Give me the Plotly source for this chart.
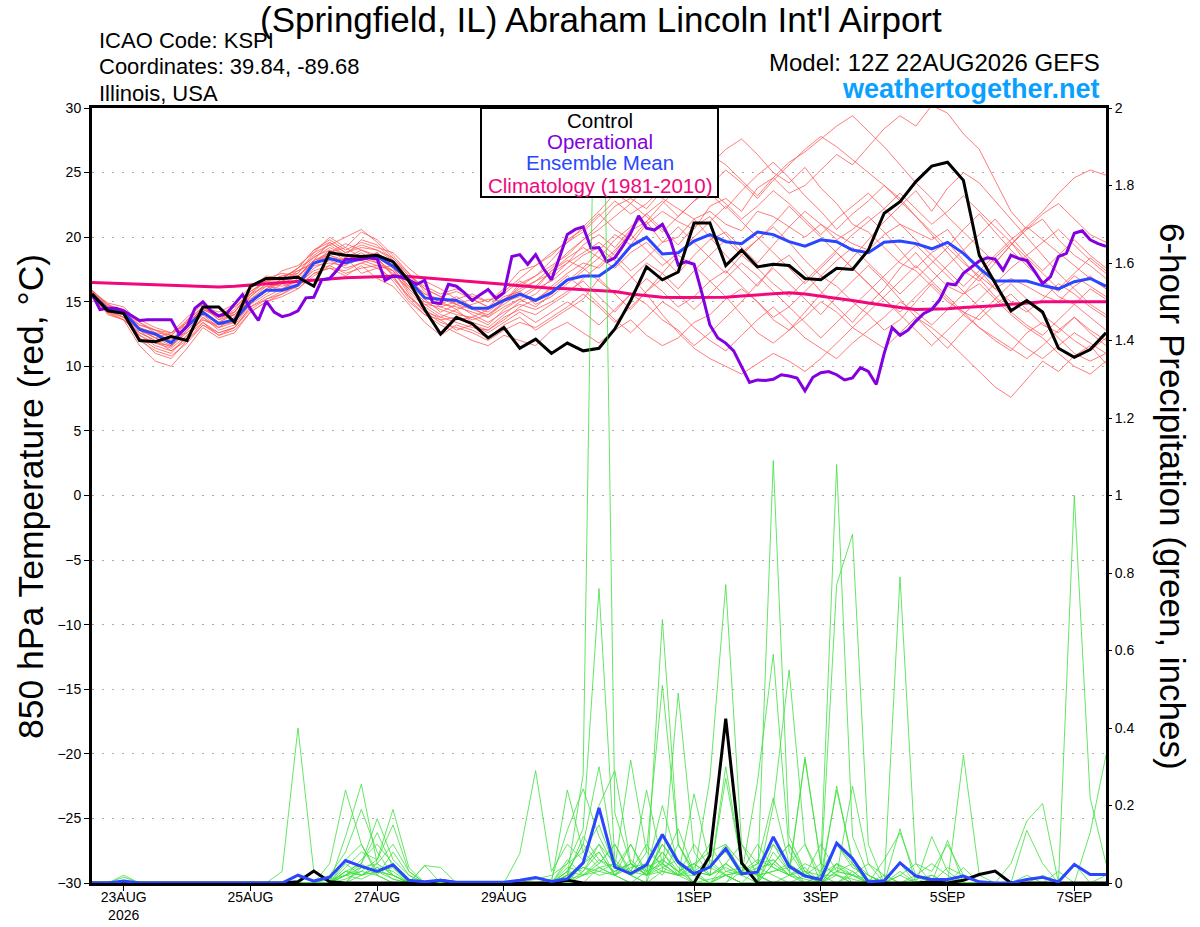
import plotly.graph_objects as go
import pandas as pd

# ---------------- data ----------------
START = "2026-08-22 12:00"
N6 = 65   # 6-hourly points
N3 = 129  # 3-hourly points (operational)

control_t = [15.6,14.3,14.1,12.0,11.9,12.3,12.0,14.6,14.6,13.4, 16.2,16.8,16.8,16.9,16.2,18.8,18.6,18.5,18.6,18.1,
             16.6,14.4,12.5,13.8,13.3,12.2,13.0,11.4,12.1,11.0, 11.8,11.2,11.4,12.9,15.1,17.7,16.7,17.3,21.1,21.1,
             17.8,19.0,17.7,17.9,17.8,16.8,16.7,17.6,17.5,19.0, 21.85,22.75,24.3,25.5,25.8,24.4,18.6,16.4,14.3,15.1,
             14.2,11.4,10.7,11.3,12.6]

mean_t = [15.6,14.4,14.2,12.85,12.5,11.8,13.1,14.2,13.3,13.6, 15.0,15.9,15.9,16.3,18.0,18.35,18.0,18.35,18.5,17.75,
          16.7,15.3,15.2,15.1,14.5,14.5,15.1,15.6,15.1,15.7, 16.7,17.0,17.0,17.85,19.3,20.0,18.7,18.8,19.7,20.2,
          19.65,19.5,20.4,20.2,19.65,19.3,19.8,19.65,19.0,18.8, 19.6,19.7,19.5,19.1,19.6,18.75,17.6,16.6,16.6,16.6,
          16.25,16.0,16.55,16.8,16.2]

clim_t = [16.5,16.45,16.4,16.35,16.3,16.25,16.2,16.18,16.15,16.2, 16.3,16.4,16.5,16.6,16.7,16.8,16.85,16.9,16.95,16.97,
          16.95,16.85,16.75,16.6,16.5,16.4,16.3,16.2,16.1,16.05, 16.0,15.95,15.9,15.8,15.6,15.45,15.35,15.33,15.33,15.34,
          15.35,15.45,15.55,15.65,15.7,15.6,15.45,15.3,15.1,14.9, 14.7,14.55,14.4,14.4,14.45,14.55,14.6,14.7,14.8,14.9,
          15.0,15.0,15.0,15.0,15.0]

oper_t = [15.6,14.4,14.5,14.5,14.3,13.9,13.55,13.6,13.6,13.6, 13.6,12.5,13.1,14.5,15.0,14.3,13.9,14.1,14.8,15.55,
          14.45,13.55,15.05,14.2,13.85,14.0,14.3,15.3,15.35,16.7, 16.8,17.5,18.3,18.3,18.3,18.4,18.3,16.65,17.0,16.9,
          16.7,16.35,16.65,14.95,14.85,16.35,16.2,15.7,15.1,15.55, 15.95,15.25,15.7,18.5,18.65,17.9,18.65,17.55,16.7,18.4,
          20.2,20.6,20.8,19.15,19.2,18.1,18.4,19.3,20.3,21.65, 20.7,20.55,21.0,19.8,17.85,18.1,17.9,15.65,13.2,12.2,
          11.8,11.2,10.0,8.75,8.95,8.9,9.0,9.35,9.25,9.1, 8.1,9.15,9.5,9.6,9.35,8.95,9.1,9.9,9.6,8.6,
          11.0,13.0,12.4,12.8,13.5,14.1,14.4,15.15,16.4,16.3, 17.2,17.7,18.15,18.4,18.3,17.45,18.6,18.35,18.2,17.35,
          16.4,16.95,18.5,18.75,20.3,20.5,19.8,19.5,19.3]

members_t = [
 [15.8,14.6,14.0,12.6,12.0,11.5,12.8,14.0,13.0,13.8, 15.2,16.2,16.0,16.8,18.5,19.0,18.2,18.8,18.0,17.2, 16.0,14.8,14.6,14.2,13.6,14.0,14.8,15.6,15.0,16.2, 17.2,18.0,17.6,18.8,20.5,21.2,19.6,20.0,21.4,22.0, 21.0,20.5,22.0,21.6,20.8,20.0,21.0,20.2,19.5,19.0, 20.2,21.0,20.4,19.8,20.6,19.0,17.5,16.0,16.8,16.2, 15.5,15.0,16.2,17.0,16.0],
 [15.5,14.2,14.4,13.0,12.4,12.0,13.5,14.6,13.8,14.2, 15.8,16.6,17.0,17.4,18.0,18.8,19.5,19.0,18.6,18.0, 16.8,15.6,15.0,14.4,14.8,15.2,15.0,16.4,17.0,17.8, 18.6,19.8,21.0,22.4,23.0,22.2,23.6,24.8,24.0,25.6, 26.8,27.6,26.4,25.0,24.2,25.4,23.8,22.6,21.0,20.4, 19.2,18.0,17.4,16.2,15.0,14.2,13.6,14.8,15.6,14.4, 13.2,12.6,13.8,12.8,12.0],
 [15.9,14.8,14.2,12.2,11.0,10.6,12.0,13.4,12.4,13.0, 14.6,15.2,15.8,16.2,17.6,18.2,17.6,18.0,18.4,17.0, 15.2,14.0,13.2,12.6,12.0,11.6,12.4,12.0,11.6,12.8, 13.4,12.6,11.8,12.8,13.6,12.4,11.6,12.2,13.4,14.0, 15.2,16.0,15.0,13.8,14.6,15.8,17.0,16.2,15.0,14.0, 12.8,13.6,15.0,16.4,15.2,14.0,13.0,12.0,11.2,12.6, 13.4,12.2,11.0,10.4,11.0],
 [15.4,14.4,13.8,12.8,12.2,12.6,13.2,14.4,14.0,14.6, 15.6,16.8,17.2,17.0,18.2,19.6,18.8,19.4,19.0,18.2, 17.0,16.0,15.4,15.8,15.2,14.6,15.6,16.6,16.0,17.4, 18.2,17.6,19.0,20.2,19.4,21.0,22.0,21.2,20.6,22.4, 23.0,22.0,23.8,24.6,23.4,24.0,25.2,26.4,25.6,27.0, 28.4,29.4,28.6,30.2,29.6,28.0,26.8,24.4,22.0,20.6, 21.4,19.8,18.6,17.8,16.8],
 [15.7,14.5,14.1,13.2,12.8,12.2,12.6,13.6,13.2,13.4, 14.8,15.6,16.4,16.0,17.0,17.8,18.4,17.2,17.6,17.8, 16.4,15.2,14.2,14.8,14.0,13.4,14.2,14.8,14.4,15.0, 15.8,16.6,15.4,14.2,15.6,16.8,15.8,14.6,15.4,16.6, 17.4,16.2,15.0,13.6,12.8,13.8,15.0,14.2,13.0,12.2, 11.4,12.6,13.8,13.0,12.0,10.8,9.6,8.4,7.6,9.0, 10.4,9.6,10.8,11.6,10.2],
 [15.6,14.0,13.6,12.4,11.6,11.2,12.2,13.8,12.8,13.2, 14.8,16.0,16.6,17.2,18.8,20.0,19.2,20.4,19.8,18.6, 17.2,15.8,14.8,15.4,14.6,13.8,15.0,16.2,17.0,18.2, 19.6,20.8,22.0,23.4,22.6,24.0,23.0,22.2,21.4,20.0, 18.6,17.4,16.2,17.8,18.6,17.2,15.8,14.6,13.4,14.8, 16.0,17.6,18.8,17.4,16.2,15.6,17.0,18.4,19.6,18.0, 16.6,15.4,14.8,16.0,15.2],
 [15.9,14.7,14.4,13.6,13.0,12.6,13.8,14.8,13.6,14.4, 16.0,17.0,16.8,17.6,19.0,19.8,19.0,19.6,19.2,18.8, 17.6,16.6,16.0,15.2,15.6,15.0,16.0,17.4,17.8,18.6, 19.8,20.6,21.8,20.6,19.8,21.2,22.6,23.8,24.6,23.4, 22.2,23.6,24.8,25.8,24.6,23.2,22.0,20.6,21.8,22.8, 24.0,23.0,21.6,20.2,18.8,17.4,16.6,18.0,19.4,20.6, 21.8,22.6,21.4,20.2,19.6],
 [15.3,14.1,13.6,11.6,10.4,10.0,11.4,13.0,12.2,12.6, 14.2,15.0,15.4,16.0,17.2,17.6,17.0,17.8,16.8,16.2, 14.8,13.4,12.4,13.2,12.8,12.2,13.2,13.8,12.8,13.6, 14.4,15.2,16.8,15.6,14.4,15.8,17.2,18.6,17.8,16.6, 15.4,14.0,12.6,11.8,12.8,14.2,15.6,17.0,18.4,19.8, 21.2,22.4,23.6,22.0,23.8,25.0,24.2,22.8,21.4,20.0, 18.6,17.2,16.0,14.8,14.0],
 [15.6,14.3,14.0,12.8,12.4,11.8,13.0,14.2,13.4,13.6, 15.4,16.4,16.2,16.6,18.2,18.6,18.0,18.2,18.8,17.6, 16.2,15.0,14.4,14.0,13.8,14.4,15.4,15.8,14.8,15.4, 16.4,17.4,18.4,17.6,18.8,19.6,18.4,17.2,18.6,19.8, 20.4,19.2,18.0,19.4,20.8,22.0,21.0,19.8,20.6,21.6, 20.4,19.0,17.6,18.8,19.6,18.2,16.8,15.4,14.2,13.2, 12.4,13.6,14.8,13.8,12.8],
 [15.8,14.9,14.6,13.4,12.8,12.4,13.4,14.4,13.8,14.0, 15.0,15.8,16.8,17.6,18.4,19.2,18.6,18.2,17.8,17.4, 15.8,14.6,13.8,13.4,13.0,12.8,13.6,14.6,15.2,16.0, 17.0,16.0,14.8,13.6,12.6,13.8,15.0,14.2,13.0,12.0, 11.2,12.4,13.6,14.6,13.4,12.2,11.4,10.6,11.8,12.8, 13.8,15.0,14.2,13.2,14.4,15.6,16.4,15.2,14.0,13.0, 12.2,11.0,10.0,9.4,10.4],
 [15.5,14.4,14.0,12.4,11.8,11.4,12.4,13.4,12.6,13.0, 14.6,15.4,16.0,16.6,17.8,18.0,17.8,18.6,18.2,17.4, 15.6,14.2,13.8,14.4,13.4,13.0,14.0,15.0,15.6,16.8, 18.0,19.4,20.2,19.2,20.6,21.8,20.6,19.4,20.8,21.6, 20.2,18.8,19.8,21.0,22.4,21.2,20.0,18.8,17.6,16.4, 15.2,14.2,15.4,16.6,17.8,19.0,20.2,21.4,20.0,18.6, 17.4,18.6,19.8,18.6,17.6],
 [15.7,14.6,14.2,13.0,12.6,12.0,13.2,14.6,13.6,14.0, 15.4,16.4,17.4,17.8,18.8,19.4,20.0,20.6,19.6,18.4, 17.0,16.2,15.6,16.0,15.4,15.0,15.8,16.8,17.8,18.8, 19.6,20.4,21.6,22.8,21.8,22.6,23.8,24.6,25.6,26.4, 25.6,24.4,23.2,24.6,25.8,26.6,27.6,28.6,29.4,28.2, 27.0,25.6,24.2,23.0,21.6,20.4,19.2,18.0,19.4,20.8, 22.0,23.4,24.6,25.2,24.8],
 [15.4,14.2,13.8,12.0,11.2,10.8,11.8,13.2,12.6,13.0, 14.4,15.2,15.6,16.4,17.4,17.8,17.2,17.6,17.8,16.6, 15.0,14.0,13.6,12.8,13.2,12.6,13.4,14.2,13.4,14.2, 15.0,14.2,13.2,14.4,15.6,14.8,13.6,12.8,11.6,12.6, 13.8,15.0,16.4,17.6,16.4,15.2,14.0,15.4,16.6,17.8, 16.6,15.2,13.8,12.6,11.4,12.8,14.0,15.2,16.4,15.2, 14.0,13.0,12.0,11.2,12.2],
 [15.6,14.4,14.2,13.4,12.6,12.4,13.6,14.6,14.2,14.8, 16.2,16.6,17.0,17.2,18.6,19.4,18.6,19.8,19.4,18.2, 16.8,15.4,14.6,15.0,14.6,14.2,15.2,16.0,16.6,17.2, 18.0,18.8,19.6,18.6,17.4,18.4,19.6,20.8,19.6,18.4, 17.2,18.6,19.8,20.8,19.6,18.2,17.0,18.2,19.2,18.0, 16.8,15.6,16.8,18.0,19.2,20.6,21.8,20.4,19.0,17.8, 16.6,15.8,17.0,16.2,15.4],
 [15.8,14.5,14.2,12.8,11.8,11.6,12.6,13.6,13.0,13.8, 15.6,16.2,16.4,17.0,18.0,18.4,18.2,18.4,18.0,17.4, 16.2,15.0,14.8,14.6,14.2,13.8,14.6,15.2,16.0,16.6, 17.6,18.6,19.2,18.2,17.0,15.6,14.0,12.6,11.4,10.6, 10.0,9.4,10.2,11.0,10.4,9.6,10.6,11.8,13.0,14.2, 15.4,16.6,17.8,16.6,15.4,14.2,13.0,12.2,11.4,10.6, 11.6,12.8,13.8,12.6,11.6],
 [15.5,14.3,13.8,12.2,11.4,11.0,12.4,13.8,13.0,13.4, 15.0,15.8,16.6,17.4,18.0,19.0,18.4,19.0,18.4,17.0, 15.4,14.4,13.6,13.8,13.2,12.8,13.8,14.4,14.0,14.8, 15.6,16.8,17.8,19.0,20.2,19.0,17.8,18.8,20.0,21.2, 22.4,21.2,20.0,18.8,17.6,16.4,17.6,18.8,17.6,16.4, 15.2,14.0,12.8,11.6,12.8,14.0,15.2,16.4,17.6,18.6, 19.6,20.6,19.4,18.2,17.2],
 [15.7,14.5,14.0,13.0,12.2,11.8,13.0,14.2,13.4,14.0, 15.2,16.0,16.8,17.0,18.2,18.8,19.2,18.4,18.8,17.8, 16.6,15.6,15.2,14.8,14.4,14.0,15.0,15.4,16.2,17.4, 18.4,19.2,18.4,19.8,20.8,21.8,22.8,21.6,22.8,24.0, 25.2,24.2,23.0,24.4,25.6,26.8,27.8,27.0,26.0,25.0, 24.0,22.8,21.6,20.4,19.2,18.0,17.0,16.0,15.0,14.2, 15.2,16.4,15.6,14.6,13.8],
 [15.6,14.6,14.4,13.2,12.8,12.6,13.4,14.4,13.8,14.2, 15.8,16.6,16.6,17.0,18.0,18.6,18.2,18.6,18.4,17.6, 16.0,14.8,14.0,13.6,13.8,13.2,14.4,15.2,14.6,15.6, 16.6,17.6,16.6,15.6,16.8,18.0,17.2,16.0,17.4,18.6, 19.8,18.6,17.6,16.4,15.4,16.6,17.8,19.0,20.2,21.2, 22.2,23.4,22.2,21.0,22.0,23.2,22.0,20.8,19.6,18.4, 17.2,16.0,17.2,18.4,17.4],
 [15.4,14.2,13.6,12.6,12.0,11.2,12.0,13.2,12.4,12.8, 14.2,15.0,15.6,16.2,17.2,17.6,17.4,18.0,17.6,16.8, 15.4,14.2,13.4,13.0,12.6,12.0,12.8,13.4,13.0,13.8, 14.6,15.6,14.6,13.4,14.6,15.8,16.8,15.6,14.4,15.6, 16.8,18.0,17.0,15.8,14.6,13.4,12.2,13.4,14.6,15.8, 17.0,18.2,19.4,18.2,17.0,15.8,14.6,13.4,12.4,11.4, 10.6,11.6,12.6,11.8,11.0],
 [15.8,14.8,14.2,12.8,12.2,11.6,12.8,14.0,13.4,14.2, 15.6,16.6,16.8,17.6,19.0,19.6,18.8,19.2,19.0,18.4, 17.2,16.0,15.4,14.8,15.2,14.6,15.2,15.8,16.6,17.6, 18.8,19.8,20.6,21.6,22.6,21.6,20.4,21.6,22.8,23.6, 22.6,21.4,22.4,23.6,22.6,21.4,20.2,21.4,22.4,23.4, 22.2,21.0,19.8,18.6,17.4,16.2,17.4,18.6,19.8,20.8, 19.8,18.8,17.8,16.8,16.0],
]

control_p = [0,0,0,0,0,0,0,0,0,0, 0,0,0,0.003,0.031,0.003,0,0,0,0, 0,0,0.007,0,0,0,0,0,0,0,
             0.007,0,0,0,0,0,0,0,0,0.071, 0.424,0.052,0,0,0,0,0,0,0,0, 0,0,0,0.003,0,0.007,0.022,0.031,0,0,
             0,0,0,0,0]

mean_p = [0,0,0.005,0,0,0,0,0,0,0, 0,0,0,0.02,0.005,0.015,0.058,0.043,0.03,0.047, 0.007,0.003,0.007,0.002,0.002,0.002,0.002,0.007,0.014,0.004,
          0.011,0.052,0.194,0.041,0.024,0.047,0.125,0.054,0.024,0.041, 0.089,0.024,0.028,0.119,0.043,0.018,0.009,0.103,0.063,0.003,
          0.006,0.052,0.018,0.009,0.009,0.018,0.003,0,0,0.009, 0.015,0.003,0.048,0.022,0.022]

members_p = [
 [0,0,0.02,0,0,0,0,0,0,0, 0,0,0,0,0,0.05,0.24,0.10,0.03,0.01, 0,0,0,0,0,0,0,0,0,0, 0.02,0.28,2.9,0.18,0.05,0.02,0.08,0.03,0,0.01, 0.02,0,0,0.05,0.1,0.03,0,0.02,0.25,0.05, 0,0.02,0,0,0.01,0,0,0,0,0, 0,0,0,0,0],
 [0,0,0.015,0,0,0,0,0,0,0, 0,0,0.03,0.40,0.03,0,0,0.05,0.02,0, 0,0,0,0,0,0,0,0,0,0, 0.05,0.14,0.76,0.06,0.02,0,0.68,0.1,0.02,0, 0,0.03,0.02,0,0,0.02,0.05,1.08,0.12,0.02, 0,0,0,0,0,0,0,0,0,0, 0,0,0,0,0],
 [0,0,0,0,0,0,0,0,0,0, 0,0,0,0,0,0,0.12,0.255,0.05,0.02, 0,0.045,0,0,0,0,0,0.076,0.29,0.03, 0.1,0.06,0.2,0.29,0.05,0.02,0.03,0.49,0.08,0.02, 0.3,0.05,0,0.2,0.55,0.1,0,0,0.03,0, 0,0,0,0.12,0.03,0,0,0,0,0, 0,0,0,0,0],
 [0,0,0,0,0,0,0,0,0,0, 0,0,0,0,0,0.02,0.08,0.19,0.08,0.02, 0,0,0,0,0,0,0,0,0,0.01, 0.136,0.243,0.12,0.04,0.317,0.08,0.51,0.1,0.03,0, 0.02,0,0,1.09,0.12,0.03,0,0.03,0.05,0, 0,0.79,0.05,0,0,0,0,0,0,0, 0,0,0,0,0],
 [0,0,0,0,0,0,0,0,0,0, 0,0,0,0,0,0,0.03,0.05,0.166,0.06, 0.02,0,0,0,0,0,0,0,0,0, 0.03,0.1,0.3,0.05,0.02,0.24,0.05,0.02,0.23,0.05, 0.02,0,0,0.1,0.05,0,0.02,0.77,0.90,0.1, 0,0,0,0,0,0.33,0.02,0,0,0, 0,0,0,0,0],
 [0,0,0,0,0,0,0,0,0,0, 0,0,0,0,0,0,0.02,0.05,0.13,0.04, 0,0,0,0,0,0,0,0,0,0, 0.24,0.08,0.04,0.02,0.1,0.03,0.2,0.05,0.02,0.27, 0.77,0.1,0.02,0,0.02,0.325,0.05,0.02,0,0, 0,0.14,0,0,0.11,0,0,0,0,0, 0,0,0,0,0],
 [0,0,0,0,0,0,0,0,0,0, 0,0,0,0,0,0,0.04,0.08,0.06,0.19, 0.04,0,0,0,0,0,0,0,0,0, 0.02,0.05,0.1,0.02,0,0,0.12,0.05,0,0, 0.05,0.02,0.26,0.59,0.08,0.02,0,0.25,0.05,0, 0,0,0,0,0,0,0,0,0.05,0.16, 0.205,0,1.0,0.22,0.05],
 [0,0,0,0,0,0,0,0,0,0, 0,0,0,0,0,0,0.02,0.03,0.06,0.15, 0.03,0,0,0,0,0,0,0,0,0, 0,0.05,0.08,0.02,0.05,0.02,0.1,0.05,0.02,0.04, 0.1,0.03,0.05,0.1,0.03,0.32,0.05,0.02,0,0, 0.06,0.13,0.02,0,0,0,0,0,0,0.136, 0.05,0,0,0.13,0.33],
 [0,0,0,0,0,0,0,0,0,0, 0,0,0,0,0,0,0.05,0.02,0.04,0.03, 0,0.045,0.04,0,0,0,0,0,0,0, 0.06,0.02,0.04,0.05,0.02,0.05,0.03,0.02,0.05,0.02, 0.27,0.05,0,0.05,0.02,0,0.02,0.24,0.06,0.02, 0,0.02,0.05,0.03,0.1,0.02,0,0,0,0, 0.02,0,0,0,0],
 [0,0,0,0,0,0,0,0,0,0, 0,0,0,0,0,0,0.06,0.1,0.02,0.08, 0.02,0,0,0,0,0,0,0,0,0, 0.03,0.1,0.05,0.1,0.02,0.08,0.05,0.14,0.03,0.02, 0.05,0.1,0.05,0.22,0.05,0.02,0,0.05,0.02,0.05, 0.02,0,0,0,0.04,0.02,0,0,0,0, 0,0,0.05,0,0],
 [0,0,0,0,0,0,0,0,0,0, 0,0,0,0,0,0,0.02,0.06,0.1,0.05, 0,0,0,0,0,0,0,0,0.01,0.02, 0.05,0.08,0.15,0.04,0.1,0.02,0.06,0.03,0.05,0.08, 0.1,0.05,0.02,0.03,0.05,0.1,0.02,0,0.02,0, 0,0.05,0,0,0,0,0,0,0,0, 0,0,0,0,0],
 [0,0,0,0,0,0,0,0,0,0, 0,0,0,0,0,0,0,0.04,0.05,0.1, 0.03,0,0,0,0,0,0,0,0,0, 0.02,0.12,0.06,0.03,0.05,0.03,0.08,0.02,0.1,0.04, 0.02,0.03,0.1,0.04,0.02,0.05,0.03,0.1,0.04,0.02, 0,0,0.02,0.05,0.02,0,0,0,0,0, 0,0.03,0,0,0],
 [0,0,0,0,0,0,0,0,0,0, 0,0,0,0,0,0,0.03,0.02,0.05,0.02, 0,0,0,0,0,0,0,0,0,0, 0.04,0.03,0.1,0.05,0.03,0.1,0.04,0.06,0.02,0.05, 0.08,0.02,0.04,0.05,0.1,0.02,0.01,0.04,0.02,0, 0,0,0,0,0,0,0,0,0,0, 0,0,0,0,0],
 [0,0,0,0,0,0,0,0,0,0, 0,0,0,0,0,0,0.01,0.03,0.02,0, 0,0,0,0,0,0,0,0,0,0, 0.02,0.04,0.03,0.02,0.06,0.02,0.1,0.04,0,0, 0.03,0.02,0,0.08,0.03,0,0,0.05,0.03,0, 0.02,0,0,0,0,0.04,0,0,0,0, 0,0,0,0,0],
 [0,0,0,0,0,0,0,0,0,0, 0,0,0,0,0,0,0.02,0.04,0.03,0.02, 0,0,0,0,0,0,0,0,0,0, 0,0.03,0.08,0.02,0.04,0.05,0.02,0.1,0.03,0.02, 0.05,0.02,0.03,0.06,0.02,0.04,0,0.1,0.05,0, 0,0.03,0,0,0,0,0,0,0,0, 0,0,0,0,0],
 [0,0,0,0,0,0,0,0,0,0, 0,0,0,0,0,0,0,0.02,0.04,0.01, 0,0,0,0,0,0,0,0,0,0, 0.01,0.02,0.05,0.1,0.03,0.02,0.05,0.02,0.04,0.1, 0.03,0.04,0.02,0.03,0.04,0.02,0.1,0.03,0.02,0.01, 0,0,0.01,0.02,0,0,0,0,0,0.02, 0,0,0,0,0],
 [0,0,0,0,0,0,0,0,0,0, 0,0,0,0,0,0,0,0,0,0, 0,0,0,0,0,0,0,0,0,0, 0,0,0.04,0.02,0,0.03,0.05,0.02,0,0, 0,0.05,0.02,0,0,0,0,0,0,0, 0,0,0,0,0,0,0,0,0,0, 0,0,0,0,0],
 [0,0,0,0,0,0,0,0,0,0, 0,0,0,0,0,0,0.03,0.02,0.03,0.02, 0,0,0,0,0,0,0,0,0,0, 0.03,0.02,0.06,0.04,0.02,0.04,0.06,0.03,0.05,0.02, 0.04,0.02,0.05,0.06,0.02,0.03,0.02,0.05,0,0, 0,0,0,0,0,0,0,0,0,0, 0,0,0,0,0],
 [0,0,0,0,0,0,0,0,0,0, 0,0,0,0,0,0,0,0,0,0, 0,0,0,0,0,0,0,0,0,0, 0,0.02,0.03,0.05,0.02,0,0.03,0.02,0.02,0, 0.02,0.03,0.06,0.04,0.02,0.01,0,0.03,0.02,0, 0,0,0,0.02,0,0,0,0,0,0, 0,0,0,0,0.02],
 [0,0,0,0,0,0,0,0,0,0, 0,0,0,0,0,0.01,0.02,0.01,0.03,0.04, 0,0,0,0,0,0,0,0,0,0, 0.02,0.04,0.02,0.03,0.05,0.02,0.04,0.02,0.03,0.06, 0.02,0,0.04,0.02,0,0,0.02,0.02,0.01,0, 0,0,0,0,0,0,0,0,0,0, 0,0,0,0,0],
]

x_tick_dates = ["2026-08-23", "2026-08-25", "2026-08-27", "2026-08-29",
                "2026-09-01", "2026-09-03", "2026-09-05", "2026-09-07"]
x_tick_text = ["23AUG<br>2026", "25AUG", "27AUG", "29AUG", "1SEP", "3SEP", "5SEP", "7SEP"]
temp_ticks = [-30, -25, -20, -15, -10, -5, 0, 5, 10, 15, 20, 25, 30]
prcp_ticks = [0, 0.2, 0.4, 0.6, 0.8, 1.0, 1.2, 1.4, 1.6, 1.8, 2.0]
prcp_tick_text = ["0", "0.2", "0.4", "0.6", "0.8", "1", "1.2", "1.4", "1.6", "1.8", "2"]

# ---------------- styles ----------------
FONT = "Liberation Sans, Arial, Helvetica, sans-serif"
RED = "#ff5a5a"
GREEN = "#3ee03e"
BLACK = "#000000"
PURPLE = "#8400e0"
BLUE = "#2a46ff"
PINK = "#f0087c"
SITE = "#0aa0ff"

W, H = 1200, 927
L, R, T, B = 92, 1106, 108, 883   # plot area in pixels

t6 = pd.date_range(START, periods=N6, freq="6h")
t3 = pd.date_range(START, periods=N3, freq="3h")

fig = go.Figure()

for m in members_t:
    fig.add_trace(go.Scatter(x=t6, y=m, mode="lines", line=dict(color=RED, width=0.8),
                             hoverinfo="skip", showlegend=False))
for m in members_p:
    fig.add_trace(go.Scatter(x=t6, y=m, mode="lines", line=dict(color=GREEN, width=0.8),
                             yaxis="y2", hoverinfo="skip", showlegend=False))

fig.add_trace(go.Scatter(x=t6, y=clim_t, mode="lines", line=dict(color=PINK, width=3), showlegend=False))
fig.add_trace(go.Scatter(x=t6, y=mean_t, mode="lines", line=dict(color=BLUE, width=3), showlegend=False))
fig.add_trace(go.Scatter(x=t3, y=oper_t, mode="lines", line=dict(color=PURPLE, width=3), showlegend=False))
fig.add_trace(go.Scatter(x=t6, y=control_t, mode="lines", line=dict(color=BLACK, width=3), showlegend=False))
fig.add_trace(go.Scatter(x=t6, y=control_p, mode="lines", line=dict(color=BLACK, width=3),
                         yaxis="y2", showlegend=False))
fig.add_trace(go.Scatter(x=t6, y=mean_p, mode="lines", line=dict(color=BLUE, width=3),
                         yaxis="y2", showlegend=False))

def px_x(px):
    return (px - L) / (R - L)

def px_y(py):
    return (B - py) / (B - T)

ann = []
ann.append(dict(text="(Springfield, IL) Abraham Lincoln Int'l Airport", x=px_x(601), y=px_y(19),
                font=dict(size=35, color=BLACK)))
ann.append(dict(text="ICAO Code: KSPI", x=px_x(97), y=px_y(40), xanchor="left", font=dict(size=22)))
ann.append(dict(text="Coordinates: 39.84, -89.68", x=px_x(97), y=px_y(66), xanchor="left", font=dict(size=22)))
ann.append(dict(text="Illinois, USA", x=px_x(97), y=px_y(93), xanchor="left", font=dict(size=22)))
ann.append(dict(text="Model: 12Z 22AUG2026 GEFS", x=px_x(1102), y=px_y(63), xanchor="right", font=dict(size=24)))
ann.append(dict(text="<b>weathertogether.net</b>", x=px_x(1102), y=px_y(89), xanchor="right",
                font=dict(size=27, color=SITE)))
ann.append(dict(text="Control", x=px_x(600), y=px_y(121), font=dict(size=20.5, color=BLACK)))
ann.append(dict(text="Operational", x=px_x(600), y=px_y(142), font=dict(size=20.5, color=PURPLE)))
ann.append(dict(text="Ensemble Mean", x=px_x(600), y=px_y(163), font=dict(size=20.5, color=BLUE)))
ann.append(dict(text="Climatology (1981-2010)", x=px_x(600), y=px_y(185), font=dict(size=20.5, color=PINK)))
ann.append(dict(text="850 hPa Temperature (red, °C)", x=px_x(31), y=px_y(497), textangle=-90,
                font=dict(size=35.5)))
ann.append(dict(text="6-hour Precipitation (green, inches)", x=px_x(1173), y=px_y(496), textangle=90,
                font=dict(size=35)))
for a in ann:
    a.update(xref="paper", yref="paper", showarrow=False, yanchor="middle")
    a.setdefault("xanchor", "center")
    a["font"].setdefault("color", BLACK)
    a["font"]["family"] = FONT

fig.update_layout(
    width=W, height=H,
    margin=dict(l=L, r=W - R, t=T, b=H - B, pad=0, autoexpand=False),
    paper_bgcolor="white", plot_bgcolor="white",
    font=dict(family=FONT, size=14, color=BLACK),
    annotations=ann,
    shapes=[dict(type="rect", xref="paper", yref="paper", x0=px_x(481), x1=px_x(718),
                 y0=px_y(197), y1=px_y(108), fillcolor="white", line=dict(color=BLACK, width=2),
                 layer="above")],
    xaxis=dict(range=[t6[0], t6[-1]], tickvals=pd.to_datetime(x_tick_dates), ticktext=x_tick_text,
               showgrid=False, zeroline=False, showline=True, linecolor=BLACK, linewidth=3,
               mirror=True, ticks="outside", ticklen=5, tickcolor=BLACK, tickwidth=1,
               ticklabelstandoff=-6, automargin=False, tickfont=dict(size=14)),
    yaxis=dict(range=[-30, 30], tickvals=temp_ticks, showgrid=True, gridcolor="#aaaaaa",
               griddash="2px,8px", gridwidth=1.3, zeroline=False, showline=True, linecolor=BLACK,
               linewidth=3, mirror=True, ticks="outside", ticklen=5, tickcolor=BLACK,
               automargin=False, tickfont=dict(size=14)),
    yaxis2=dict(range=[0, 2], overlaying="y", side="right", tickvals=prcp_ticks, ticktext=prcp_tick_text,
                showgrid=False, zeroline=False, showline=False, ticks="outside", ticklen=5,
                automargin=False, tickcolor=BLACK, tickfont=dict(size=14)),
)

fig.write_html("out.html", config={"displayModeBar": False},
               post_script="document.body.style.margin='0px';")
